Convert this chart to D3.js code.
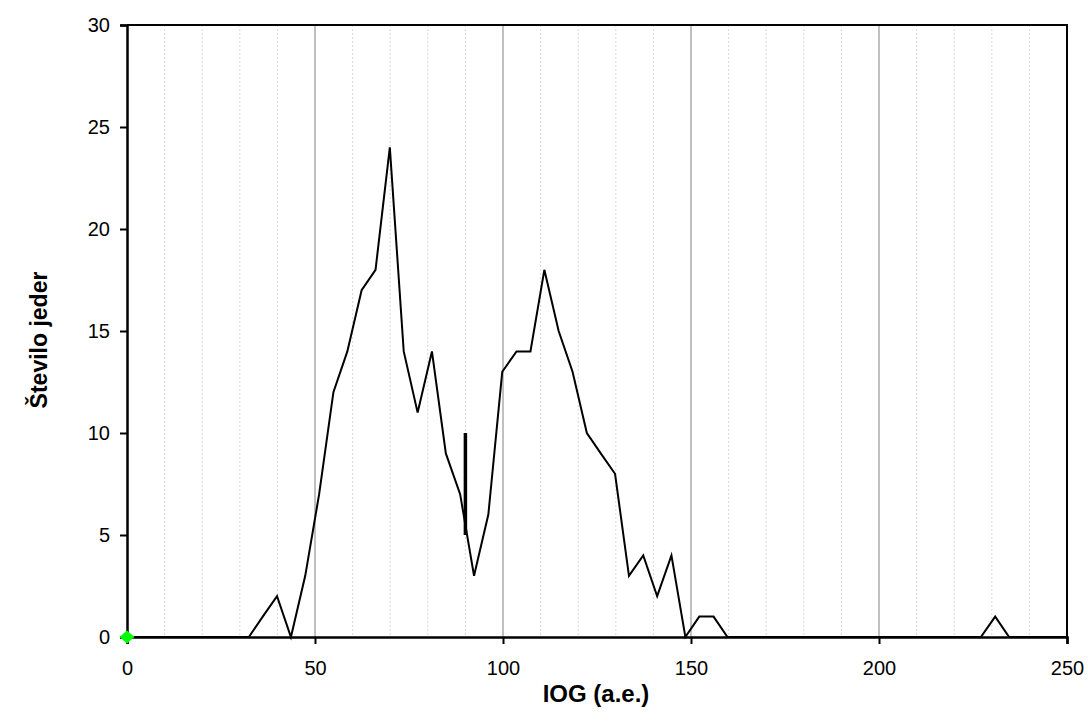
<!DOCTYPE html>
<html>
<head>
<meta charset="utf-8">
<script src="https://cdn.jsdelivr.net/npm/d3@7"></script>
<style>
    body { margin: 0; background: #fff; }
    svg { display: block; font-family: Arial, "Liberation Sans", sans-serif; }
</style>
</head>
<body>
<svg width="1088" height="726"></svg>
<script>
// IOG values (a.e.) and counts of nuclei
var iog = [0, 32.4, 36.1, 39.9, 43.6, 47.4, 51.1, 54.9, 58.6, 62.4, 66.1, 69.9, 73.6, 77.3, 81.1, 84.8,
    88.6, 92.3, 96.1, 99.8, 103.6, 107.3, 111.0, 114.8, 118.5, 122.3, 126.0, 129.8, 133.5, 137.3,
    141.0, 144.8, 148.5, 152.2, 156.0, 159.7, 227.1, 230.9, 234.6, 250];
var counts = [0, 0, 1, 2, 0, 3, 7, 12, 14, 17, 18, 24, 14, 11, 14, 9,
    7, 3, 6, 13, 14, 14, 18, 15, 13, 10, 9, 8, 3, 4,
    2, 4, 0, 1, 1, 0, 0, 1, 0, 0];

// marker line at IOG 90
var markX = [90, 90];
var markY = [5, 10];

var xTicks = [0, 50, 100, 150, 200, 250];
var xMajor = [50, 100, 150, 200];
var xMinor = [10, 20, 30, 40, 60, 70, 80, 90, 110, 120, 130, 140, 160, 170, 180, 190, 210, 220, 230, 240];
var yTicks = [0, 5, 10, 15, 20, 25, 30];

var svg = d3.select("svg");
var mLeft = 127, mRight = 1067, mTop = 25, mBottom = 637;

var x = d3.scaleLinear().domain([0, 250]).range([mLeft, mRight]);
var y = d3.scaleLinear().domain([0, 30]).range([mBottom, mTop]);

// minor gridlines
svg.append("g")
    .selectAll("line")
    .data(xMinor)
    .enter()
    .append("line")
    .attr("x1", d => x(d)).attr("x2", d => x(d))
    .attr("y1", mTop).attr("y2", mBottom)
    .attr("stroke", "#d8d8d8")
    .attr("stroke-width", 1)
    .attr("stroke-dasharray", "2,2");

// major gridlines
svg.append("g")
    .selectAll("line")
    .data(xMajor)
    .enter()
    .append("line")
    .attr("x1", d => x(d)).attr("x2", d => x(d))
    .attr("y1", mTop).attr("y2", mBottom)
    .attr("stroke", "#c0c0c0")
    .attr("stroke-width", 2);

// frame top/right
svg.append("path")
    .attr("d", `M${mLeft},${mTop}H${mRight}V${mBottom}`)
    .attr("fill", "none")
    .attr("stroke", "#000")
    .attr("stroke-width", 2);

// data line
var line = d3.line()
    .x((d, i) => x(iog[i]))
    .y(d => y(d));

svg.append("path")
    .datum(counts)
    .attr("d", line)
    .attr("fill", "none")
    .attr("stroke", "#000")
    .attr("stroke-width", 2)
    .attr("stroke-linejoin", "miter");

svg.append("line")
    .attr("x1", x(markX[0])).attr("x2", x(markX[1]))
    .attr("y1", y(markY[0])).attr("y2", y(markY[1]))
    .attr("stroke", "#000")
    .attr("stroke-width", 3.5);

// axes
var xAxis = svg.append("g")
    .attr("transform", `translate(0,${mBottom})`)
    .call(d3.axisBottom(x).tickValues(xTicks).tickSize(7).tickPadding(17));

var yAxis = svg.append("g")
    .attr("transform", `translate(${mLeft},0)`)
    .call(d3.axisLeft(y).tickValues(yTicks).tickSize(7).tickPadding(10));

[xAxis, yAxis].forEach(function(g) {
    g.select(".domain").attr("stroke-width", 2.5);
    g.selectAll(".tick line").attr("stroke-width", 2);
    g.selectAll(".tick text")
        .attr("font-size", "20px")
        .attr("font-family", "Arial, 'Liberation Sans', sans-serif")
        .attr("fill", "#000");
});

// green diamond at origin
svg.append("path")
    .attr("d", "M0,-6.5L7.5,0L0,6.5L-7.5,0Z")
    .attr("transform", `translate(${x(0)},${y(0)})`)
    .attr("fill", "#00ff00");

// axis titles
svg.append("text")
    .attr("x", 596)
    .attr("y", 702)
    .attr("text-anchor", "middle")
    .attr("font-size", "24px")
    .attr("font-weight", "bold")
    .text("IOG (a.e.)");

svg.append("text")
    .attr("transform", "translate(47,340) rotate(-90)")
    .attr("text-anchor", "middle")
    .attr("font-size", "23px")
    .attr("font-weight", "bold")
    .text("Število jeder");
</script>
</body>
</html>
